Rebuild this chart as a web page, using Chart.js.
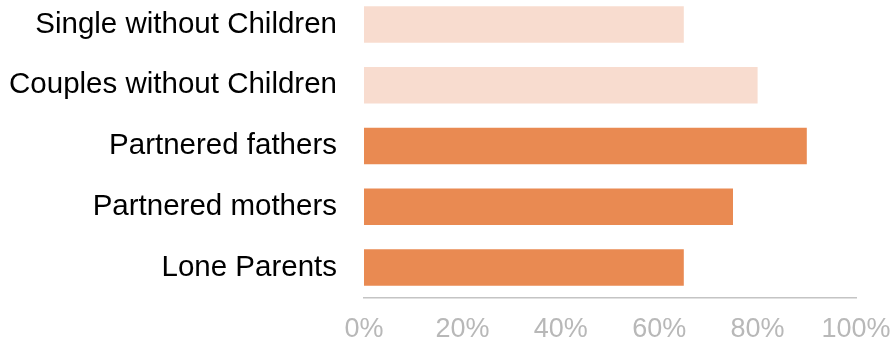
<!DOCTYPE html>
<html>
<head>
    <title>Household Types</title>
    <script src="https://cdn.jsdelivr.net/npm/chart.js"></script>
    <style>
        html, body { margin: 0; padding: 0; background: #fff; overflow: hidden; }
        #wrap { position: relative; width: 895px; height: 345px; }
        #wrap canvas { position: absolute; left: 0; top: -6px; }
    </style>
</head>
<body>
    <div id="wrap"><canvas id="chart" width="895" height="351"></canvas></div>

    <script>
        const categories = ['Single without Children', 'Couples without Children', 'Partnered fathers', 'Partnered mothers', 'Lone Parents'];
        const groups = ['no children', 'no children', 'parents', 'parents', 'parents'];
        const values = [65, 80, 90, 75, 65];
        const tickValues = [0, 20, 40, 60, 80, 100];

        const groupColours = { 'no children': '#f8dccf', 'parents': '#e98a52' };

        new Chart(document.getElementById('chart').getContext('2d'), {
            type: 'bar',
            data: {
                labels: categories,
                datasets: [{
                    data: values,
                    backgroundColor: groups.map(g => groupColours[g]),
                    borderWidth: 0,
                    barPercentage: 0.6,
                    categoryPercentage: 1
                }]
            },
            options: {
                indexAxis: 'y',
                responsive: false,
                animation: false,
                layout: { padding: 0 },
                plugins: { legend: { display: false }, tooltip: { enabled: false } },
                scales: {
                    x: {
                        min: 0,
                        max: 100,
                        afterBuildTicks: scale => { scale.ticks = tickValues.map(v => ({ value: v })); },
                        afterFit: scale => {
                            scale.height = 47;
                            scale.paddingLeft = 0;
                            scale.paddingRight = 39;
                        },
                        grid: { display: false, drawTicks: false },
                        border: { display: true, color: '#c4c4c4', width: 1.5 },
                        ticks: {
                            color: '#b8b8b8',
                            padding: 15,
                            maxRotation: 0,
                            font: { family: 'Liberation Sans, Arial, sans-serif', size: 27 },
                            callback: v => v + '%'
                        }
                    },
                    y: {
                        afterFit: scale => {
                            scale.width = 364;
                            scale.paddingTop = 0;
                            scale.paddingBottom = 0;
                        },
                        grid: { display: false, drawTicks: false },
                        border: { display: false },
                        ticks: {
                            color: '#000',
                            padding: 27,
                            font: { family: 'Liberation Sans, Arial, sans-serif', size: 29.5 }
                        }
                    }
                }
            }
        });
    </script>
</body>
</html>
